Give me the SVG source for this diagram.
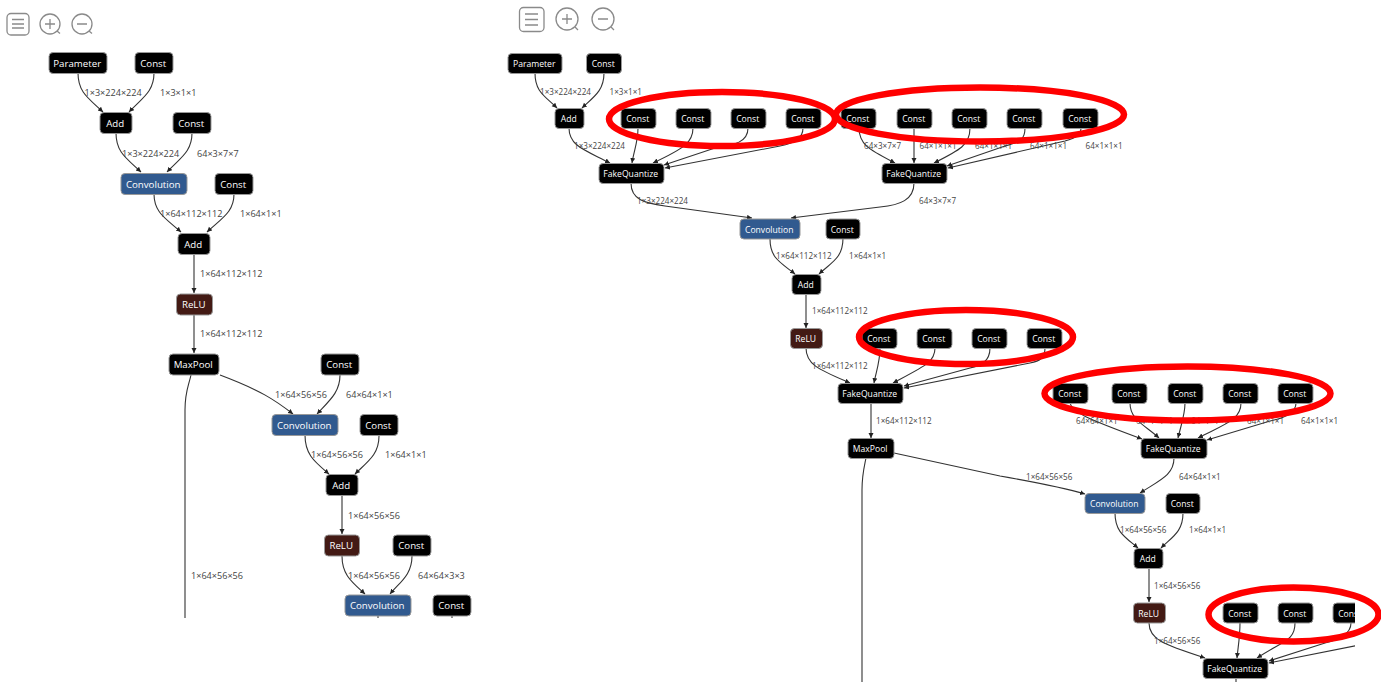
<svg xmlns="http://www.w3.org/2000/svg" width="1381" height="682" viewBox="0 0 1381 682">
<style>
text{font-family:"Open Sans","Noto Sans","Liberation Sans",sans-serif}
.c path{fill:none;stroke:#333;stroke-width:1.1;marker-end:url(#a)}
.c path.p{marker-end:none}
.b{fill:#000;stroke:#999;stroke-width:1}
.blue{fill:#315a8f}
.red{fill:#431a14}
.L text{font-size:9.7px;fill:#fff;text-anchor:middle;transform:translate(-.8px,-.3px)}
.R text{font-size:8.6px;fill:#fff;text-anchor:middle;transform:translate(-.8px,.3px)}
.ll{font-size:9.1px;fill:#444;transform:translateY(.6px)}
.lr{font-size:8.1px;fill:#444;transform:translateY(.6px)}
.e{fill:none;stroke:#f00;stroke-width:6.500}
.i{fill:none;stroke:#8a8a8a;stroke-width:1.3}
</style>
<defs>
<marker id="a" markerWidth="6" markerHeight="6" refX="5" refY="2.5" orient="auto" markerUnits="userSpaceOnUse"><path d="M0 0L5 2.5L0 5z" fill="#222"/></marker>
<clipPath id="clip"><rect x="0" y="0" width="1355" height="682"/></clipPath>
</defs>
<rect width="1381" height="682" fill="#fff"/>
<g id="toolbar" class="i">
<rect x="7" y="13.500" width="22" height="21.500" rx="4"/><path d="M12 19.500H24M12 24H24M12 28H24"/>
<circle cx="50" cy="24" r="10"/><path d="M45 24H55M50 19V29M57 31L60 33.500"/>
<circle cx="82" cy="24" r="10"/><path d="M77 24H87M89 31L92 33.500"/>
<rect x="519.500" y="7.500" width="24.500" height="24" rx="4"/><path d="M525 14H538M525 19.500H538M525 25H538"/>
<circle cx="567" cy="19" r="11"/><path d="M562 19H572M567 14V24M575 27L578 30"/>
<circle cx="603" cy="19" r="11"/><path d="M598 19H608M611 27L614 30"/>
</g>
<g id="connectors" class="c">
<path d="M78 73C78 92 88 98 103 112"/>
<path d="M154 73C154 92 142 98 129 112"/>
<path d="M116 133C116 152 126 158 141 172"/>
<path d="M192 133C192 152 180 158 167 172"/>
<path d="M154 194C154 212 165 218 181 232"/>
<path d="M234 194C234 212 222 218 207 232"/>
<path d="M194 254V293"/>
<path d="M194 315V353"/>
<path d="M220 375C260 390 275 400 293 414"/>
<path d="M340 375C340 392 330 400 317 414"/>
<path d="M305 435C305 455 315 462 329 474"/>
<path d="M379 436C379 455 367 462 355 474"/>
<path d="M342 495V534"/>
<path d="M342 556C342 575 352 582 365 594"/>
<path d="M412 556C412 575 400 582 390 594"/>
<path class="p" d="M191 375C188 388 185 392 185 410V618"/>
<path class="p" d="M378 616V618M452 616V618"/>
<path d="M535 73C535 92 545 96 557 108"/>
<path d="M604 73C604 90 595 96 582 108"/>
<path d="M569 128C569 146 585 150 610 163"/>
<path d="M638 128C638 142 634 150 632 163"/>
<path d="M693 128C693 142 685 148 653 163"/>
<path d="M748 128C748 142 735 145 715 148L664 165"/>
<path d="M803 128C803 138 795 143 780 146L665 168"/>
<path d="M631 183C631 200 645 203 665 206L752 218"/>
<path d="M914 183C914 200 900 205 880 207L791 218"/>
<path d="M859 128C859 145 870 150 895 163"/>
<path d="M914 128V163"/>
<path d="M970 128C970 145 960 150 934 163"/>
<path d="M1025 128C1025 140 1020 142 1005 146L947 166"/>
<path d="M1081 128C1081 136 1075 138 1065 141L948 168"/>
<path d="M770 239C770 258 780 262 795 274"/>
<path d="M843 238C843 258 832 262 819 274"/>
<path d="M806 294V328"/>
<path d="M806 348C806 365 820 370 850 383"/>
<path d="M880 348C880 362 876 372 874 383"/>
<path d="M935 348C935 362 925 366 893 383"/>
<path d="M990 348C990 362 980 366 970 368L904 386"/>
<path d="M1045 348C1045 358 1040 361 1030 363L904 388"/>
<path d="M871 403V438"/>
<path d="M894 453L1000 476C1040 483 1065 488 1085 494"/>
<path class="p" d="M866 458C864 468 862 475 862 490V682"/>
<path d="M1070 403C1072 412 1085 418 1142 439"/>
<path d="M1130 403C1130 420 1145 425 1159 438"/>
<path d="M1185 403C1185 415 1181 425 1178 438"/>
<path d="M1241 403C1241 420 1225 424 1198 438"/>
<path d="M1296 403C1296 412 1285 418 1270 421L1207 440"/>
<path d="M1174 458C1174 475 1160 480 1140 493"/>
<path d="M1115 513C1115 532 1125 537 1138 548"/>
<path d="M1183 513C1183 532 1172 537 1161 548"/>
<path d="M1149 568V602"/>
<path d="M1149 623C1149 640 1165 645 1205 658"/>
<path d="M1240 623C1240 637 1238 647 1237 658"/>
<path d="M1295 623C1295 640 1285 640 1257 658"/>
<g clip-path="url(#clip)">
<path d="M1351 623C1351 633 1340 640 1325 643L1269 661"/>
<path d="M1400 637L1269 663"/>
</g>
<path class="p" d="M1236 678V682"/>
</g>
<g id="labels-left" class="ll">
<text x="84.500" y="95">1×3×224×224</text><text x="160" y="95">1×3×1×1</text>
<text x="122" y="156">1×3×224×224</text><text x="197" y="156">64×3×7×7</text>
<text x="160" y="216">1×64×112×112</text><text x="240" y="216">1×64×1×1</text>
<text x="200" y="276">1×64×112×112</text><text x="200" y="336">1×64×112×112</text>
<text x="275" y="397">1×64×56×56</text><text x="346" y="397">64×64×1×1</text>
<text x="311" y="457">1×64×56×56</text><text x="385" y="457">1×64×1×1</text>
<text x="348" y="518">1×64×56×56</text>
<text x="191" y="578">1×64×56×56</text><text x="348" y="578">1×64×56×56</text><text x="418" y="578">64×64×3×3</text>
</g>
<g id="labels-right" class="lr">
<text x="540" y="94">1×3×224×224</text><text x="609.500" y="94">1×3×1×1</text>
<text x="574" y="148">1×3×224×224</text><text x="637" y="203">1×3×224×224</text>
<text x="864" y="148">64×3×7×7</text><text x="919.500" y="148">64×1×1×1</text><text x="975" y="148">64×1×1×1</text><text x="1030" y="148">64×1×1×1</text><text x="1085.500" y="148">64×1×1×1</text>
<text x="919" y="203">64×3×7×7</text>
<text x="776" y="258">1×64×112×112</text><text x="849" y="258">1×64×1×1</text>
<text x="812" y="313">1×64×112×112</text><text x="812" y="368">1×64×112×112</text><text x="876" y="423">1×64×112×112</text>
<text x="1076" y="423">64×64×1×1</text><text x="1136" y="423">64×1×1×1</text><text x="1191" y="423">64×1×1×1</text><text x="1247" y="423">64×1×1×1</text><text x="1301" y="423">64×1×1×1</text>
<text x="1026" y="479">1×64×56×56</text><text x="1179" y="479">64×64×1×1</text>
<text x="1120" y="532">1×64×56×56</text><text x="1189" y="532">1×64×1×1</text>
<text x="1154" y="588">1×64×56×56</text><text x="1154" y="643">1×64×56×56</text>
</g>
<g class="L">
<g id="l-param"><rect class="b" x="49" y="52.500" width="58" height="21" rx="4"/><text x="78" y="67">Parameter</text></g>
<g id="l-const1"><rect class="b" x="135" y="52.500" width="38" height="21" rx="4"/><text x="154" y="67">Const</text></g>
<g id="l-add1"><rect class="b" x="100" y="112.500" width="32" height="21" rx="4"/><text x="116" y="127">Add</text></g>
<g id="l-const2"><rect class="b" x="173" y="112.500" width="38" height="21" rx="4"/><text x="192" y="127">Const</text></g>
<g id="l-conv1"><rect class="b blue" x="121" y="173.500" width="66" height="21" rx="4"/><text x="154" y="188">Convolution</text></g>
<g id="l-const3"><rect class="b" x="215" y="173.500" width="38" height="21" rx="4"/><text x="234" y="188">Const</text></g>
<g id="l-add2"><rect class="b" x="178" y="233.500" width="32" height="21" rx="4"/><text x="194" y="248">Add</text></g>
<g id="l-relu1"><rect class="b red" x="176.500" y="294" width="36" height="21" rx="4"/><text x="194.500" y="308.500">ReLU</text></g>
<g id="l-maxpool"><rect class="b" x="169" y="354" width="50" height="21" rx="4"/><text x="194" y="368.500">MaxPool</text></g>
<g id="l-const4"><rect class="b" x="321" y="354" width="38" height="21" rx="4"/><text x="340" y="368.500">Const</text></g>
<g id="l-conv2"><rect class="b blue" x="272" y="414.500" width="66" height="21" rx="4"/><text x="305" y="429">Convolution</text></g>
<g id="l-const5"><rect class="b" x="360" y="414.500" width="38" height="21" rx="4"/><text x="379" y="429">Const</text></g>
<g id="l-add3"><rect class="b" x="326" y="474.500" width="32" height="21" rx="4"/><text x="342" y="489">Add</text></g>
<g id="l-relu2"><rect class="b red" x="324.500" y="535" width="35" height="21" rx="4"/><text x="342" y="549.500">ReLU</text></g>
<g id="l-const6"><rect class="b" x="393" y="535" width="38" height="21" rx="4"/><text x="412" y="549.500">Const</text></g>
<g id="l-conv3"><rect class="b blue" x="345" y="595" width="66" height="21" rx="4"/><text x="378" y="609.500">Convolution</text></g>
<g id="l-const7"><rect class="b" x="433" y="595" width="38" height="21" rx="4"/><text x="452" y="609.500">Const</text></g>
</g>
<g class="R">
<g id="r-param"><rect class="b" x="508" y="53.500" width="54" height="20" rx="4"/><text x="535" y="67">Parameter</text></g>
<g id="r-const1"><rect class="b" x="586.500" y="53.500" width="35" height="20" rx="4"/><text x="604" y="67">Const</text></g>
<g id="r-add1"><rect class="b" x="555" y="108.500" width="29" height="20" rx="4"/><text x="569.500" y="122">Add</text></g>
<g id="r-c1"><rect class="b" x="621" y="108.500" width="35" height="20" rx="4"/><text x="638.500" y="122">Const</text></g>
<g id="r-c2"><rect class="b" x="676" y="108.500" width="35" height="20" rx="4"/><text x="693.500" y="122">Const</text></g>
<g id="r-c3"><rect class="b" x="731" y="108.500" width="35" height="20" rx="4"/><text x="748.500" y="122">Const</text></g>
<g id="r-c4"><rect class="b" x="786" y="108.500" width="35" height="20" rx="4"/><text x="803.500" y="122">Const</text></g>
<g id="r-fq1"><rect class="b" x="599" y="163.500" width="65" height="20" rx="4"/><text x="631.500" y="177">FakeQuantize</text></g>
<g id="r-c5"><rect class="b" x="841" y="108.500" width="35" height="20" rx="4"/><text x="858.500" y="122">Const</text></g>
<g id="r-c6"><rect class="b" x="897" y="108.500" width="35" height="20" rx="4"/><text x="914.500" y="122">Const</text></g>
<g id="r-c7"><rect class="b" x="952" y="108.500" width="35" height="20" rx="4"/><text x="969.500" y="122">Const</text></g>
<g id="r-c8"><rect class="b" x="1007" y="108.500" width="35" height="20" rx="4"/><text x="1024.500" y="122">Const</text></g>
<g id="r-c9"><rect class="b" x="1063" y="108.500" width="35" height="20" rx="4"/><text x="1080.500" y="122">Const</text></g>
<g id="r-fq2"><rect class="b" x="882" y="163.500" width="65" height="20" rx="4"/><text x="914.500" y="177">FakeQuantize</text></g>
<g id="r-conv1"><rect class="b blue" x="740" y="219" width="60" height="20" rx="4"/><text x="770" y="232.500">Convolution</text></g>
<g id="r-c10"><rect class="b" x="826" y="219" width="34" height="20" rx="4"/><text x="843" y="232.500">Const</text></g>
<g id="r-add2"><rect class="b" x="792" y="274.500" width="29" height="20" rx="4"/><text x="806.500" y="288">Add</text></g>
<g id="r-relu1"><rect class="b red" x="790.500" y="328.500" width="32" height="20" rx="4"/><text x="806.500" y="342">ReLU</text></g>
<g id="r-c11"><rect class="b" x="862" y="328.500" width="35" height="20" rx="4"/><text x="879.500" y="342">Const</text></g>
<g id="r-c12"><rect class="b" x="917" y="328.500" width="35" height="20" rx="4"/><text x="934.500" y="342">Const</text></g>
<g id="r-c13"><rect class="b" x="972" y="328.500" width="35" height="20" rx="4"/><text x="989.500" y="342">Const</text></g>
<g id="r-c14"><rect class="b" x="1027" y="328.500" width="35" height="20" rx="4"/><text x="1044.500" y="342">Const</text></g>
<g id="r-fq3"><rect class="b" x="838" y="383.500" width="65" height="20" rx="4"/><text x="870.500" y="397">FakeQuantize</text></g>
<g id="r-maxpool"><rect class="b" x="848" y="438.500" width="46" height="20" rx="4"/><text x="871" y="452">MaxPool</text></g>
<g id="r-c15"><rect class="b" x="1053" y="383.500" width="35" height="20" rx="4"/><text x="1070.500" y="397">Const</text></g>
<g id="r-c16"><rect class="b" x="1112" y="383.500" width="35" height="20" rx="4"/><text x="1129.500" y="397">Const</text></g>
<g id="r-c17"><rect class="b" x="1168" y="383.500" width="35" height="20" rx="4"/><text x="1185.500" y="397">Const</text></g>
<g id="r-c18"><rect class="b" x="1223" y="383.500" width="35" height="20" rx="4"/><text x="1240.500" y="397">Const</text></g>
<g id="r-c19"><rect class="b" x="1278" y="383.500" width="35" height="20" rx="4"/><text x="1295.500" y="397">Const</text></g>
<g id="r-fq4"><rect class="b" x="1141" y="438.500" width="66" height="20" rx="4"/><text x="1174" y="452">FakeQuantize</text></g>
<g id="r-conv2"><rect class="b blue" x="1085" y="493.500" width="60" height="20" rx="4"/><text x="1115" y="507">Convolution</text></g>
<g id="r-c20"><rect class="b" x="1166" y="493.500" width="34" height="20" rx="4"/><text x="1183" y="507">Const</text></g>
<g id="r-add3"><rect class="b" x="1134" y="548.500" width="29" height="20" rx="4"/><text x="1148.500" y="562">Add</text></g>
<g id="r-relu2"><rect class="b red" x="1133.500" y="603" width="32" height="20" rx="4"/><text x="1149.500" y="616.500">ReLU</text></g>
<g id="r-c21"><rect class="b" x="1223" y="603" width="35" height="20" rx="4"/><text x="1240.500" y="616.500">Const</text></g>
<g id="r-c22"><rect class="b" x="1278" y="603" width="35" height="20" rx="4"/><text x="1295.500" y="616.500">Const</text></g>
<g id="r-c23" clip-path="url(#clip)"><rect class="b" x="1333" y="603" width="35" height="20" rx="4"/><text x="1350.500" y="616.500">Const</text></g>
<g id="r-fq5"><rect class="b" x="1203" y="658.500" width="65" height="20" rx="4"/><text x="1235.500" y="672">FakeQuantize</text></g>
</g>
<g id="highlights">
<ellipse class="e" cx="722" cy="119" rx="113" ry="27"/>
<ellipse class="e" cx="980" cy="114.500" rx="144" ry="27"/>
<ellipse class="e" cx="966" cy="337" rx="107" ry="27"/>
<ellipse class="e" cx="1187.500" cy="393.500" rx="143" ry="27"/>
<ellipse class="e" cx="1293.500" cy="614.500" rx="85" ry="27"/>
</g>
</svg>
